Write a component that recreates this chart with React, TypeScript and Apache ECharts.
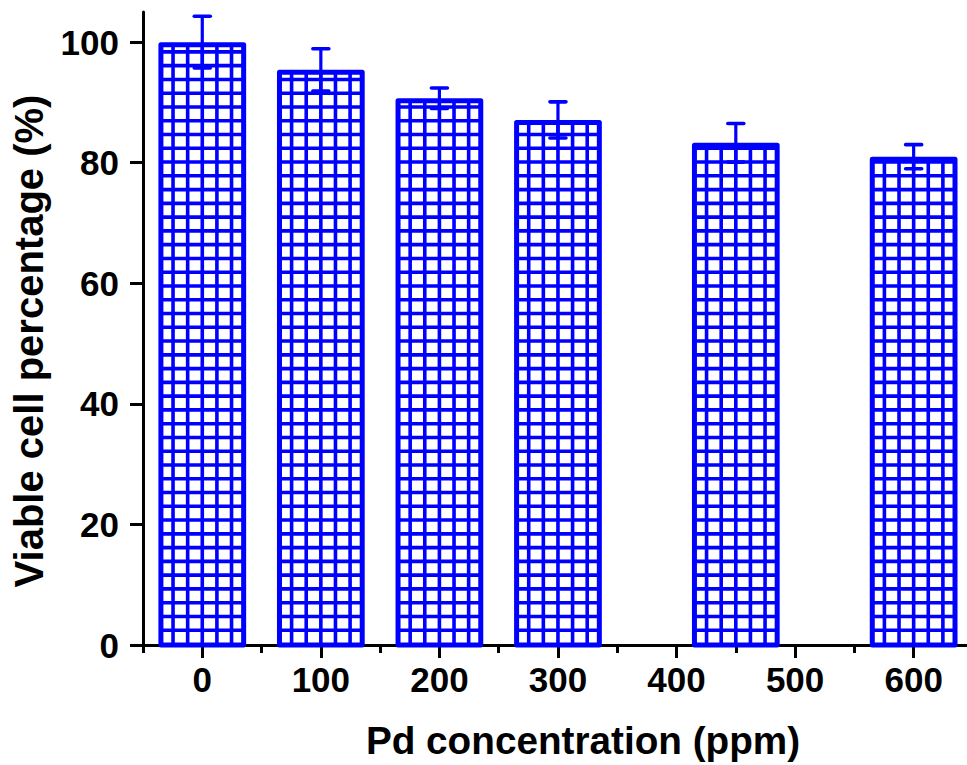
import React, { useEffect, useRef } from "react";
import * as echarts from "echarts";

const concentrations = [0, 100, 200, 300, 450, 600];
const viability = [100.0, 95.4, 90.7, 87.1, 83.3, 81.0];
const errors = [4.3, 3.5, 1.7, 3.0, 3.2, 2.0];
const xTickLabels = [0, 100, 200, 300, 400, 500, 600];
const xMinorTicks = [-50, 50, 150, 250, 350, 450, 550];
const yTickLabels = [0, 20, 40, 60, 80, 100];
const yMinorTicks = [10, 30, 50, 70, 90];

const BLUE = "#0000ff";
const FONT = "'Liberation Sans', Arial, sans-serif";

export default function App() {
  const ref = useRef<HTMLDivElement>(null);
  useEffect(() => {
    if (!ref.current) return;
    const chart = echarts.init(ref.current, null, { renderer: "svg" });
    const data = concentrations.map((c, i) => [c, viability[i], errors[i]]);
    const halfW = 37;
    const rowPx = 13.77;

    const renderItem = (params: any, api: any) => {
      const x = api.value(0);
      const v = api.value(1);
      const e = api.value(2);
      const p0 = api.coord([x - halfW, 0]);
      const p1 = api.coord([x + halfW, v]);
      const left = p0[0];
      const right = p1[0];
      const bottom = p0[1];
      const top = p1[1];
      const w = right - left;
      const children: any[] = [];
      children.push({
        type: "rect",
        shape: { x: left + 2, y: top + 2, width: w - 4, height: bottom - top - 2 },
        style: { fill: "#fff", stroke: null },
      });
      for (let i = 1; i < 6; i++) {
        const xx = left + (i * w) / 6;
        children.push({
          type: "line",
          shape: { x1: xx, y1: top + 2, x2: xx, y2: bottom },
          style: { stroke: BLUE, lineWidth: 3.6 },
        });
      }
      for (let k = 1; ; k++) {
        const yy = bottom - 1 - k * rowPx;
        if (yy < top + 5) break;
        children.push({
          type: "line",
          shape: { x1: left + 2, y1: yy, x2: right - 2, y2: yy },
          style: { stroke: BLUE, lineWidth: 3.6 },
        });
      }
      children.push({
        type: "rect",
        shape: { x: left + 2.5, y: top + 2.5, width: w - 5, height: bottom - top - 2.5 },
        style: { fill: null, stroke: BLUE, lineWidth: 5, lineJoin: "round" },
      });
      const eHi = api.coord([x, v + e]);
      const eLo = api.coord([x, v - e]);
      children.push({
        type: "line",
        shape: { x1: eHi[0], y1: eHi[1], x2: eLo[0], y2: eLo[1] },
        style: { stroke: BLUE, lineWidth: 3.2 },
      });
      children.push({
        type: "line",
        shape: { x1: eHi[0] - 8, y1: eHi[1], x2: eHi[0] + 8, y2: eHi[1] },
        style: { stroke: BLUE, lineWidth: 3.6, lineCap: "round" },
      });
      children.push({
        type: "line",
        shape: { x1: eLo[0] - 8, y1: eLo[1], x2: eLo[0] + 8, y2: eLo[1] },
        style: { stroke: BLUE, lineWidth: 3.6, lineCap: "round" },
      });
      return { type: "group", children };
    };

    const labelStyle = {
      color: "#000",
      fontFamily: FONT,
      fontWeight: "bold" as const,
      fontSize: 35,
    };

    chart.setOption({
      animation: false,
      backgroundColor: "#fff",
      grid: { left: 143, right: 0, top: 12, bottom: 118, containLabel: false },
      xAxis: [
        {
          type: "value",
          min: -50,
          max: 645,
          position: "bottom",
          name: "Pd concentration (ppm)",
          nameLocation: "middle",
          nameGap: 76,
          nameTextStyle: { ...labelStyle, fontSize: 38.7, padding: [0, 0, 0, 56] },
          axisLine: { show: true, onZero: false, lineStyle: { color: "#000", width: 3 } },
          axisTick: {
            show: true,
            inside: false,
            length: 13,
            customValues: xTickLabels,
            lineStyle: { color: "#000", width: 3 },
          },
          axisLabel: { ...labelStyle, margin: 17, customValues: xTickLabels },
          splitLine: { show: false },
        },
        {
          type: "value",
          min: -50,
          max: 645,
          position: "bottom",
          axisLine: { show: false },
          axisTick: {
            show: true,
            length: 8,
            customValues: xMinorTicks,
            lineStyle: { color: "#000", width: 3 },
          },
          axisLabel: { show: false },
          splitLine: { show: false },
        },
      ],
      yAxis: [
        {
          type: "value",
          min: 0,
          max: 105,
          position: "left",
          name: "Viable cell percentage (%)",
          nameLocation: "middle",
          nameGap: 94,
          nameRotate: 90,
          nameTextStyle: { ...labelStyle, fontSize: 40, padding: [0, 25, 0, 0] },
          axisLine: { show: true, onZero: false, lineStyle: { color: "#000", width: 3 } },
          axisTick: {
            show: true,
            length: 13,
            customValues: yTickLabels,
            lineStyle: { color: "#000", width: 3 },
          },
          axisLabel: { ...labelStyle, margin: 24, customValues: yTickLabels },
          splitLine: { show: false },
        },
        {
          type: "value",
          min: 0,
          max: 105,
          position: "left",
          axisLine: { show: false },
          axisTick: {
            show: true,
            length: 8,
            customValues: yMinorTicks,
            lineStyle: { color: "#000", width: 3 },
          },
          axisLabel: { show: false },
          splitLine: { show: false },
        },
      ],
      series: [
        {
          type: "custom",
          xAxisIndex: 0,
          yAxisIndex: 0,
          renderItem,
          data,
          clip: false,
        },
      ],
    });
    return () => chart.dispose();
  }, []);
  return (
    <div
      ref={ref}
      style={{ position: "absolute", left: 0, top: 0, width: 967, height: 765 }}
    />
  );
}
